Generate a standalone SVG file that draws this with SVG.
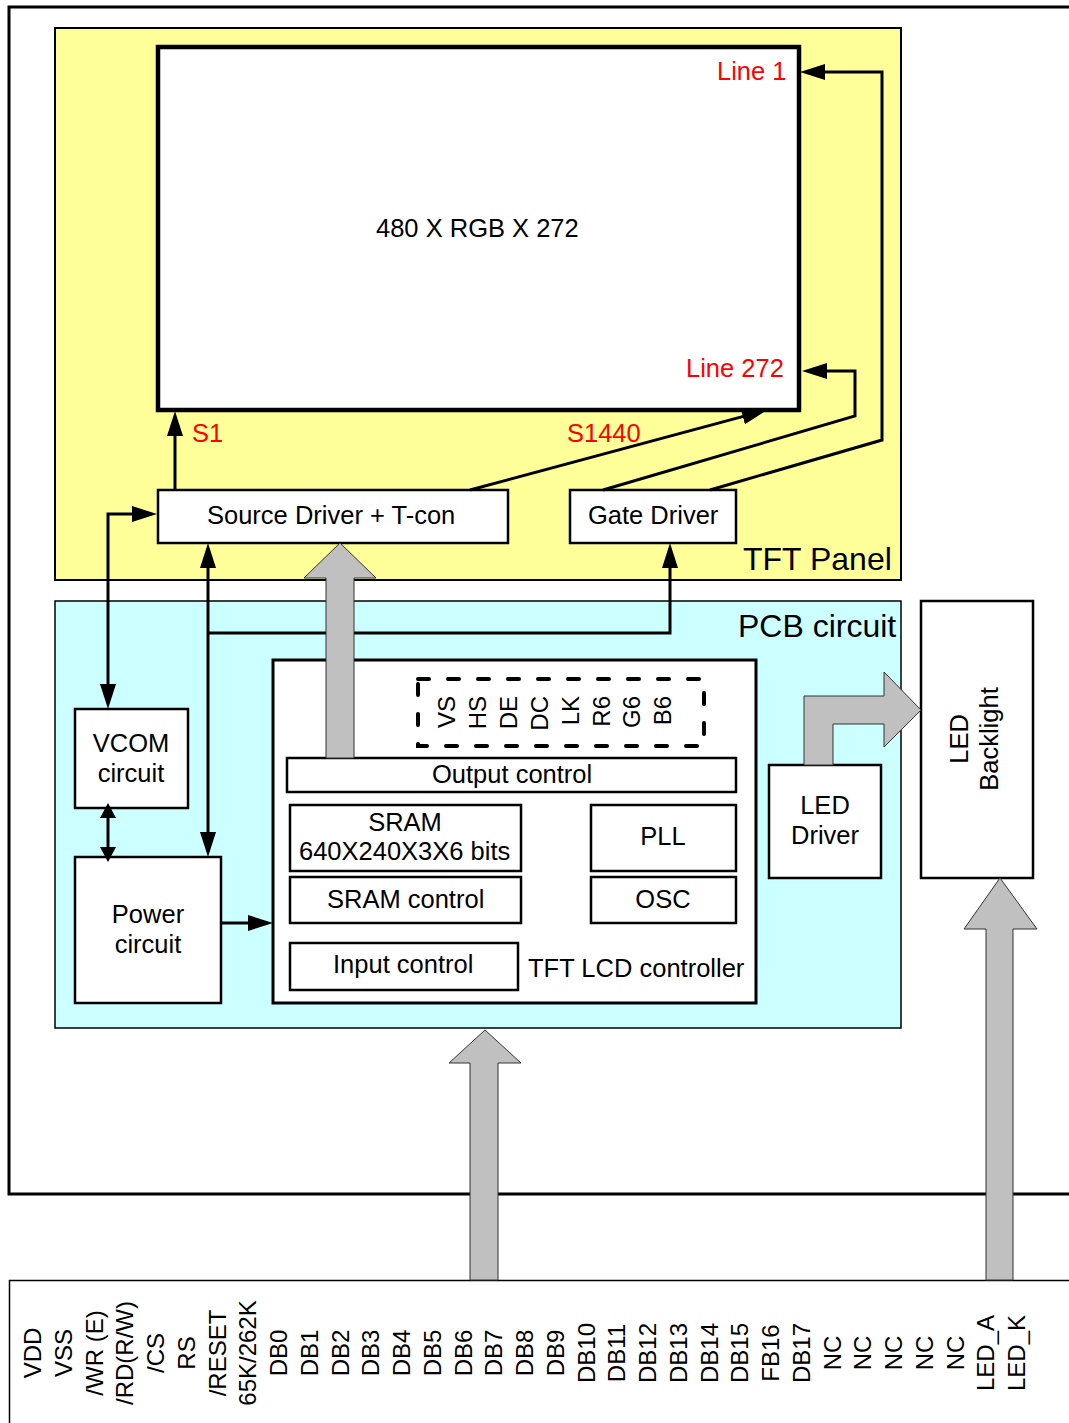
<svg xmlns="http://www.w3.org/2000/svg" width="1069" height="1423" viewBox="0 0 1069 1423">
<style>
.t{font-family:"Liberation Sans",Arial,sans-serif;font-size:25.5px;fill:#000}
.r{fill:#ff0000}
.big{font-size:32px}
.box{fill:#fff;stroke:#000;stroke-width:2.5}
.con{fill:none;stroke:#000;stroke-width:3}
.gray{fill:#c0c0c0;stroke:#333;stroke-width:1}
.lbl{font-family:"Liberation Sans",Arial,sans-serif;font-size:24px;fill:#000}
.sig{font-family:"Liberation Sans",Arial,sans-serif;font-size:24px;fill:#000}
</style>
<defs>
<marker id="ah" viewBox="0 0 25 16" refX="15" refY="8" markerWidth="25" markerHeight="16" orient="auto-start-reverse" markerUnits="userSpaceOnUse"><path d="M0,0 L25,8 L0,16 z" fill="#000"/></marker>
<marker id="as" viewBox="0 0 15 16" refX="5" refY="8" markerWidth="15" markerHeight="16" orient="auto-start-reverse" markerUnits="userSpaceOnUse"><path d="M0,0 L15,8 L0,16 z" fill="#000"/></marker>
</defs>
<rect width="1069" height="1423" fill="#fff"/>
<!-- outer frames -->
<path d="M1075,7 H9 V1194 H1075" fill="none" stroke="#000" stroke-width="3"/>
<path d="M1075,1280.5 H9.5 V1430" fill="none" stroke="#000" stroke-width="1.5"/>
<!-- TFT panel -->
<g id="tft-panel">
<rect x="55" y="28" width="846" height="552" fill="#ffff99" stroke="#000" stroke-width="2"/>
<text class="t big" x="743" y="570">TFT Panel</text>
</g>
<g id="display">
<rect x="158" y="47" width="641" height="363" fill="#fff" stroke="#000" stroke-width="4.5"/>
<text class="t" x="376" y="237">480 X RGB X 272</text>
<text class="t r" x="717" y="80">Line 1</text>
<text class="t r" x="686" y="377">Line 272</text>
</g>
<text class="t r" x="192" y="442">S1</text>
<text class="t r" x="567" y="442">S1440</text>
<g id="source-driver">
<rect class="box" x="158" y="490" width="350" height="53"/>
<text class="t" x="207" y="524">Source Driver + T-con</text>
</g>
<g id="gate-driver">
<rect class="box" x="570" y="490" width="166" height="53"/>
<text class="t" x="588" y="524">Gate Driver</text>
</g>
<!-- PCB -->
<g id="pcb-circuit">
<rect x="55" y="601" width="846" height="427" fill="#ccffff" stroke="#000" stroke-width="1.5"/>
<text class="t big" x="738" y="637">PCB circuit</text>
</g>
<g id="vcom">
<rect class="box" x="75" y="709" width="113" height="99"/>
<text class="t" x="131" y="752" text-anchor="middle">VCOM</text>
<text class="t" x="131" y="782" text-anchor="middle">circuit</text>
</g>
<g id="power">
<rect class="box" x="75" y="857" width="146" height="146"/>
<text class="t" x="148" y="923" text-anchor="middle">Power</text>
<text class="t" x="148" y="953" text-anchor="middle">circuit</text>
</g>
<g id="controller">
<rect x="273" y="660" width="483" height="343" fill="#fff" stroke="#000" stroke-width="3"/>
<text class="t" x="528" y="977">TFT LCD controller</text>
</g>
<g id="signals">
<rect x="418" y="679" width="286" height="67" fill="none" stroke="#000" stroke-width="4" stroke-dasharray="11 19" stroke-linecap="round"/>
<text class="sig" transform="translate(455,696) rotate(-90)" text-anchor="end">VS</text>
<text class="sig" transform="translate(486,696) rotate(-90)" text-anchor="end">HS</text>
<text class="sig" transform="translate(517,696) rotate(-90)" text-anchor="end">DE</text>
<text class="sig" transform="translate(548,696) rotate(-90)" text-anchor="end">DC</text>
<text class="sig" transform="translate(579,696) rotate(-90)" text-anchor="end">LK</text>
<text class="sig" transform="translate(610,696) rotate(-90)" text-anchor="end">R6</text>
<text class="sig" transform="translate(640,696) rotate(-90)" text-anchor="end">G6</text>
<text class="sig" transform="translate(671,696) rotate(-90)" text-anchor="end">B6</text>
</g>
<g id="output-control">
<rect class="box" x="287" y="758" width="449" height="34"/>
<text class="t" x="432" y="783">Output control</text>
</g>
<g id="sram">
<rect class="box" x="290" y="805" width="231" height="66"/>
<text class="t" x="405" y="831" text-anchor="middle">SRAM</text>
<text class="t" x="299" y="860">640X240X3X6 bits</text>
</g>
<g id="pll">
<rect class="box" x="591" y="805" width="145" height="66"/>
<text class="t" x="663" y="845" text-anchor="middle">PLL</text>
</g>
<g id="sram-control">
<rect class="box" x="290" y="877" width="231" height="46"/>
<text class="t" x="327" y="908">SRAM control</text>
</g>
<g id="osc">
<rect class="box" x="591" y="877" width="145" height="46"/>
<text class="t" x="663" y="908" text-anchor="middle">OSC</text>
</g>
<g id="input-control">
<rect class="box" x="290" y="943" width="228" height="47"/>
<text class="t" x="333" y="973">Input control</text>
</g>
<g id="led-driver">
<rect class="box" x="769" y="765" width="112" height="113"/>
<text class="t" x="825" y="814" text-anchor="middle">LED</text>
<text class="t" x="825" y="844" text-anchor="middle">Driver</text>
</g>
<g id="led-backlight">
<rect class="box" x="921" y="601" width="112" height="277"/>
<text class="t" transform="translate(968,739) rotate(-90)" text-anchor="middle">LED</text>
<text class="t" transform="translate(998,739) rotate(-90)" text-anchor="middle">Backlight</text>
</g>
<!-- connectors -->
<g id="connectors">
<path class="con" d="M175,490 V421" marker-end="url(#ah)"/>
<path class="con" d="M470,490 L757.3,412.6" marker-end="url(#ah)"/>
<path class="con" d="M603,490 L855,416 V371 H812" marker-end="url(#ah)"/>
<path class="con" d="M710,490 L882,440 V72 H810" marker-end="url(#ah)"/>
<path class="con" d="M147,514 H108 V699" marker-start="url(#ah)" marker-end="url(#ah)"/>
<path class="con" d="M108,813 V852" marker-start="url(#as)" marker-end="url(#as)"/>
<path class="con" d="M208,553 V847" marker-start="url(#ah)" marker-end="url(#ah)"/>
<path class="con" d="M208,633 H670 V553" marker-end="url(#ah)"/>
<path class="con" d="M221,923 H263" marker-end="url(#ah)"/>
<polygon class="gray" points="326,758 326,578 304,578 340,543 376,578 354,578 354,758"/>
<polygon class="gray" points="470,1280 470,1063 449,1063 485,1030 521,1063 498,1063 498,1280"/>
<polygon class="gray" points="986,1280 986,929 964,929 1000,878 1037,929 1013,929 1013,1280"/>
<polygon class="gray" points="804,765 804,696 884,696 884,672 921,710 884,747 884,724 833,724 833,765"/>
</g>
<!-- pin labels -->
<g id="pins">
<text class="lbl" transform="translate(41,1353) rotate(-90)" text-anchor="middle">VDD</text>
<text class="lbl" transform="translate(72,1353) rotate(-90)" text-anchor="middle">VSS</text>
<text class="lbl" transform="translate(103,1353) rotate(-90)" text-anchor="middle">/WR (E)</text>
<text class="lbl" transform="translate(133,1353) rotate(-90)" text-anchor="middle">/RD(R/W)</text>
<text class="lbl" transform="translate(164,1353) rotate(-90)" text-anchor="middle">/CS</text>
<text class="lbl" transform="translate(195,1353) rotate(-90)" text-anchor="middle">RS</text>
<text class="lbl" transform="translate(226,1353) rotate(-90)" text-anchor="middle">/RESET</text>
<text class="lbl" transform="translate(256,1353) rotate(-90)" text-anchor="middle">65K/262K</text>
<text class="lbl" transform="translate(287,1353) rotate(-90)" text-anchor="middle">DB0</text>
<text class="lbl" transform="translate(318,1353) rotate(-90)" text-anchor="middle">DB1</text>
<text class="lbl" transform="translate(349,1353) rotate(-90)" text-anchor="middle">DB2</text>
<text class="lbl" transform="translate(379,1353) rotate(-90)" text-anchor="middle">DB3</text>
<text class="lbl" transform="translate(410,1353) rotate(-90)" text-anchor="middle">DB4</text>
<text class="lbl" transform="translate(441,1353) rotate(-90)" text-anchor="middle">DB5</text>
<text class="lbl" transform="translate(472,1353) rotate(-90)" text-anchor="middle">DB6</text>
<text class="lbl" transform="translate(502,1353) rotate(-90)" text-anchor="middle">DB7</text>
<text class="lbl" transform="translate(533,1353) rotate(-90)" text-anchor="middle">DB8</text>
<text class="lbl" transform="translate(564,1353) rotate(-90)" text-anchor="middle">DB9</text>
<text class="lbl" transform="translate(595,1353) rotate(-90)" text-anchor="middle">DB10</text>
<text class="lbl" transform="translate(625,1353) rotate(-90)" text-anchor="middle">DB11</text>
<text class="lbl" transform="translate(656,1353) rotate(-90)" text-anchor="middle">DB12</text>
<text class="lbl" transform="translate(687,1353) rotate(-90)" text-anchor="middle">DB13</text>
<text class="lbl" transform="translate(718,1353) rotate(-90)" text-anchor="middle">DB14</text>
<text class="lbl" transform="translate(748,1353) rotate(-90)" text-anchor="middle">DB15</text>
<text class="lbl" transform="translate(779,1353) rotate(-90)" text-anchor="middle">FB16</text>
<text class="lbl" transform="translate(810,1353) rotate(-90)" text-anchor="middle">DB17</text>
<text class="lbl" transform="translate(841,1353) rotate(-90)" text-anchor="middle">NC</text>
<text class="lbl" transform="translate(871,1353) rotate(-90)" text-anchor="middle">NC</text>
<text class="lbl" transform="translate(902,1353) rotate(-90)" text-anchor="middle">NC</text>
<text class="lbl" transform="translate(933,1353) rotate(-90)" text-anchor="middle">NC</text>
<text class="lbl" transform="translate(964,1353) rotate(-90)" text-anchor="middle">NC</text>
<text class="lbl" transform="translate(994,1353) rotate(-90)" text-anchor="middle">LED_A</text>
<text class="lbl" transform="translate(1025,1353) rotate(-90)" text-anchor="middle">LED_K</text>
</g>
</svg>
